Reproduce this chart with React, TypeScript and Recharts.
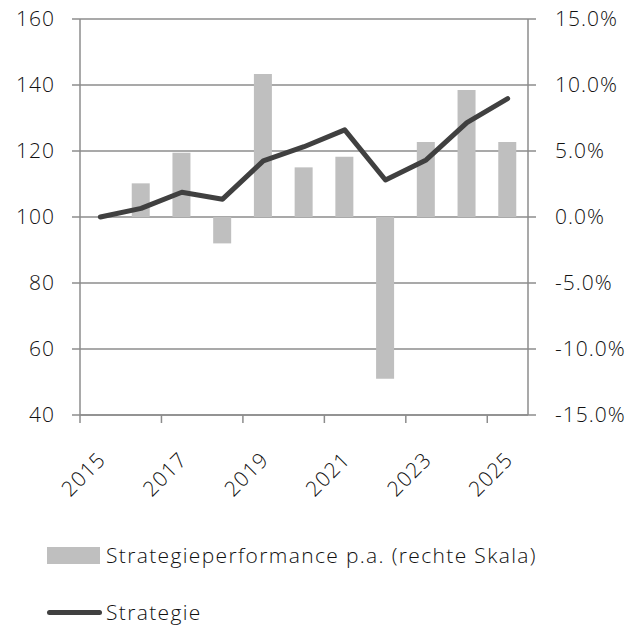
import React from 'react';
import { ComposedChart, Bar, Line, XAxis, YAxis, CartesianGrid } from 'recharts';

// mid-year positions on a 2015–2026 date axis
const years = [2015.5, 2016.5, 2017.5, 2018.5, 2019.5, 2020.5, 2021.5, 2022.5, 2023.5, 2024.5, 2025.5];
const strategie = [100, 102.6, 107.5, 105.4, 117.0, 121.3, 126.4, 111.2, 117.3, 128.6, 135.9];
const performancePa = [null, 0.0255, 0.0487, -0.02, 0.1083, 0.0376, 0.0457, -0.1225, 0.0568, 0.0962, 0.0568];
const xTicks = [2015, 2017, 2019, 2021, 2023, 2025];
const leftTicks = [40, 60, 80, 100, 120, 140, 160];
const rightTicks = [-0.15, -0.1, -0.05, 0, 0.05, 0.1, 0.15];

const data = years.map((year, i) => ({
  year,
  strategie: strategie[i],
  perf: performancePa[i],
}));

const FONT = '"Open Sans", sans-serif';
const AXIS_GREY = '#8c8c8c';
const TEXT = '#111';

const tickStyle = { fontFamily: FONT, fontWeight: 300, fontSize: 21, fill: TEXT, letterSpacing: 1 };

const YearTick = (props: any) => {
  const { x, y, payload } = props;
  const tx = x + 27;
  const ty = y + 36;
  return (
    <text
      x={tx}
      y={ty}
      textAnchor="end"
      transform={`rotate(-45, ${tx}, ${ty})`}
      style={tickStyle}
    >
      {payload.value}
    </text>
  );
};

export default function App() {
  return (
    <div style={{ position: 'absolute', left: 0, top: 0, width: 642, height: 626, background: '#fff' }}>
      <ComposedChart width={642} height={626} data={data} margin={{ top: 19, right: 0, left: 0, bottom: 151 }}>
        <CartesianGrid vertical={false} stroke={AXIS_GREY} strokeWidth={1.5} yAxisId="left" />
        <XAxis
          dataKey="year"
          type="number"
          domain={[2015, 2026]}
          ticks={xTicks}
          height={60}
          tickSize={8}
          stroke={AXIS_GREY}
          strokeWidth={1.5}
          tick={<YearTick />}
          interval={0}
        />
        <YAxis
          yAxisId="left"
          domain={[40, 160]}
          ticks={leftTicks}
          width={80}
          tickSize={8}
          tickMargin={17}
          stroke={AXIS_GREY}
          strokeWidth={1.5}
          tick={tickStyle}
          interval={0}
        />
        <YAxis
          yAxisId="right"
          orientation="right"
          domain={[-0.15, 0.15]}
          ticks={rightTicks}
          width={114}
          tickSize={8}
          tickMargin={19}
          stroke={AXIS_GREY}
          strokeWidth={1.5}
          tick={tickStyle}
          interval={0}
          tickFormatter={(v: number) => `${(v * 100).toFixed(1)}%`}
        />
        <Bar yAxisId="right" dataKey="perf" fill="#bfbfbf" barSize={18} isAnimationActive={false} />
        <Line
          yAxisId="left"
          dataKey="strategie"
          type="linear"
          stroke="#404040"
          strokeWidth={5}
          strokeLinecap="round"
          strokeLinejoin="round"
          dot={false}
          isAnimationActive={false}
        />
      </ComposedChart>

      <div style={{ position: 'absolute', left: 47, top: 537, fontFamily: FONT, fontWeight: 300, fontSize: 21, letterSpacing: 1.35, color: TEXT }}>
        <div style={{ display: 'flex', alignItems: 'center', height: 36 }}>
          <span style={{ display: 'inline-block', width: 53, height: 17, background: '#bfbfbf', marginRight: 6 }} />
          <span>Strategieperformance p.a. (rechte Skala)</span>
        </div>
        <div style={{ display: 'flex', alignItems: 'center', height: 36, marginTop: 21 }}>
          <span style={{ display: 'inline-block', width: 55, height: 5, borderRadius: 3, background: '#404040', marginRight: 4 }} />
          <span>Strategie</span>
        </div>
      </div>
    </div>
  );
}
